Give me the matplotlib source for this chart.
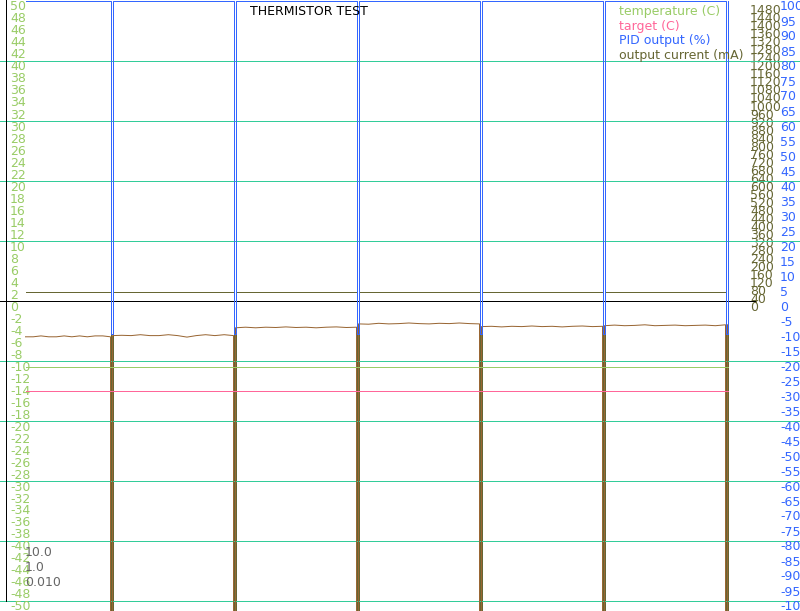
import numpy as np
import matplotlib
matplotlib.use("Agg")
import matplotlib.pyplot as plt

plt.rcParams["axes.unicode_minus"] = False

# ---------------- data ----------------
title = "THERMISTOR TEST"
spike_times = [85, 208, 331, 454, 577, 700]      # s
spike_len = 2                                    # s
run_start = 0
temperature_c = -11.0
target_c = -15.0
pid_idle_pct = 100
pid_spike_pct = -11
current_idle_ma = 45
current_spike_ma = -2000
probe_spike_c = -60
probe_seg1 = [-6.05, -6.05, -5.9, -6.05, -6.05, -5.9, -6.05, -5.9, -6.05, -5.9, -5.9, -6.05]
probe_seg2 = [-5.85, -5.8, -5.85, -5.7, -5.85, -5.85, -5.7, -5.85, -6.1, -5.85, -5.7, -5.85, -5.7, -5.85]
probe_seg3 = [-4.55, -4.45, -4.55, -4.45, -4.5, -4.4, -4.5, -4.45, -4.55, -4.45, -4.4, -4.5, -4.45]
probe_seg4 = [-3.9, -3.95, -3.8, -3.9, -3.85, -3.75, -3.85, -3.9, -3.8, -3.85, -3.75, -3.85, -3.9]
probe_seg5 = [-4.35, -4.3, -4.4, -4.3, -4.35, -4.25, -4.35, -4.3, -4.4, -4.3, -4.25, -4.35, -4.3]
probe_seg6 = [-4.2, -4.1, -4.2, -4.15, -4.05, -4.2, -4.15, -4.1, -4.2, -4.15, -4.1, -4.2, -4.05]
probe_segments = [probe_seg1, probe_seg2, probe_seg3, probe_seg4, probe_seg5, probe_seg6]
pid_params = ["10.0", "1.0", "0.010"]
temp_ticks = list(range(-50, 51, 2))
pid_ticks = list(range(-100, 101, 5))
current_ticks = list(range(0, 1481, 40))
grid_levels = [-50, -40, -30, -20, -10, 10, 20, 30, 40]
legend_labels = ["temperature (C)", "target (C)", "PID output (%)", "output current (mA)"]

# ---------------- colours ----------------
C_TEMP = "#99cc66"
C_TARGET = "#ff6699"
C_PID = "#3366ff"
C_CURR = "#666633"
C_PROBE = "#996633"
C_GRID = "#33cc99"
C_PARAM = "#666666"


def square_series(idle, spike):
    t, v = [run_start], [idle]
    for s in spike_times:
        t += [s, s, s + spike_len, s + spike_len]
        v += [idle, spike, spike, idle]
    return t, v


pid_t, pid_v = square_series(pid_idle_pct, pid_spike_pct)
cur_t, cur_v = square_series(current_idle_ma, current_spike_ma)

probe_t, probe_v = [], []
start = run_start
for k, seg in enumerate(probe_segments):
    s = spike_times[k]
    probe_t += list(np.linspace(start, s, len(seg)))
    probe_v += seg
    probe_t += [s, s + spike_len]
    probe_v += [probe_spike_c, probe_spike_c]
    start = s + spike_len
probe_t.append(start)
probe_v.append(probe_segments[-1][-1])
end_t = start

# ---------------- layout ----------------
W, H = 800, 611
px_per_deg = 6.0
temp_top = 50 + 0.5 / px_per_deg
temp_bot = temp_top - H / px_per_deg
LW = 0.72

fig = plt.figure(figsize=(W / 100, H / 100), dpi=100, facecolor="white")
ax = fig.add_axes([0, 0, 1, 1])
ax3 = ax.twinx()   # current (mA)
ax2 = ax.twinx()   # PID (%)
ax3.set_zorder(1)
ax.set_zorder(2)
ax2.set_zorder(3)
ax3.patch.set_visible(True)
ax3.patch.set_facecolor("white")
ax.patch.set_visible(False)
ax2.patch.set_visible(False)

for a in (ax, ax2, ax3):
    for sp in a.spines.values():
        sp.set_visible(False)
    a.tick_params(axis="x", bottom=False, top=False, labelbottom=False, labeltop=False)
    a.set_xlim(-25.5, W - 25.5)

ax.set_ylim(temp_bot, temp_top)
ax2.set_ylim(2 * temp_bot, 2 * temp_top)
ax3.set_ylim(30 * temp_bot, 30 * temp_top)

# ticks
ax.set_yticks(temp_ticks)
ax.tick_params(axis="y", length=0, pad=-7.2, labelsize=9, labelcolor=C_TEMP)
plt.setp(ax.get_yticklabels(), ha="left", va="top")

ax3.set_yticks(current_ticks)
ax3.tick_params(axis="y", length=0, pad=-36, labelsize=9, labelcolor=C_CURR)
plt.setp(ax3.get_yticklabels(), ha="left", va="top")

ax2.set_yticks(pid_ticks)
ax2.tick_params(axis="y", length=0, pad=-14.4, labelsize=9, labelcolor=C_PID)
plt.setp(ax2.get_yticklabels(), ha="left", va="top")

# grid & axes lines
for g in grid_levels:
    ax.axhline(g, color=C_GRID, lw=LW, zorder=0.5)
ax.axhline(0, xmin=0, xmax=755 / W, color="black", lw=LW, zorder=0.6)
ax.axvline(-20, ymin=(H - 600.5) / H, ymax=1, color="black", lw=LW, zorder=0.6)

# series
l_cur, = ax3.plot(cur_t, cur_v, color=C_CURR, lw=LW, label=legend_labels[3])
ax.plot(probe_t, probe_v, color=C_PROBE, lw=LW, zorder=2)
l_temp, = ax.plot([run_start, end_t], [temperature_c, temperature_c], color=C_TEMP, lw=LW,
                  zorder=3, label=legend_labels[0])
l_tgt, = ax.plot([run_start, end_t], [target_c, target_c], color=C_TARGET, lw=LW,
                 zorder=3, label=legend_labels[1])
l_pid, = ax2.plot(pid_t, pid_v, color=C_PID, lw=LW, label=legend_labels[2], clip_on=False)

ax2.legend(handles=[l_temp, l_tgt, l_pid, l_cur], loc="upper left",
           bbox_to_anchor=(619 / W, 1 - 5 / H), bbox_transform=fig.transFigure,
           borderaxespad=0, borderpad=0, handlelength=0, handletextpad=0,
           labelspacing=0.13, frameon=False, fontsize=9, labelcolor="linecolor")

fig.text(250 / W, 1 - 15 / H, title, fontsize=9, color="black", ha="left", va="baseline")
for i, p in enumerate(pid_params):
    fig.text(25 / W, 1 - (556 + 15 * i) / H, p, fontsize=9, color=C_PARAM,
             ha="left", va="baseline")

fig.savefig("out.png", dpi=100, facecolor="white")
